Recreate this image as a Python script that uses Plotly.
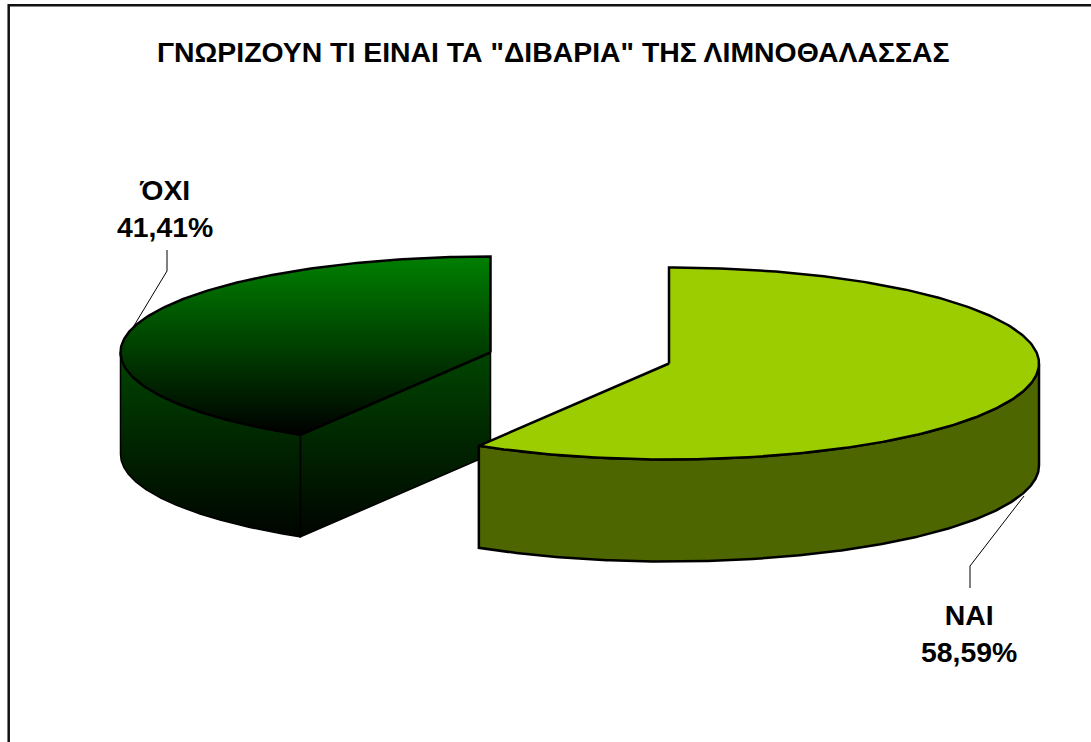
import numpy as np
import plotly.graph_objects as go

# --- data ---
categories = ["ΝΑΙ", "ΌΧΙ"]
shares = [58.59, 41.41]
title_text = 'ΓΝΩΡΙΖΟΥΝ ΤΙ ΕΙΝΑΙ ΤΑ "ΔΙΒΑΡΙΑ" ΤΗΣ ΛΙΜΝΟΘΑΛΑΣΣΑΣ'

# --- drawing geometry (pixel-like axis units) ---
W, H = 1091, 742
RX, RY, DEPTH = 370, 96, 102
CENTER_YES = (669, 363.5)
CENTER_NO = (490.5, 352.5)
LIME = "#9bcd00"
LIME_WALL = "#4d6600"
FONT = "Liberation Sans"


def ell(c, deg):
    a = np.radians(np.asarray(deg, dtype=float))
    return c[0] + RX * np.sin(a), c[1] - RY * np.cos(a)


def arc(c, a0, a1, n=240):
    return ell(c, np.linspace(a0, a1, n))


def closed(xs, ys):
    return list(xs) + [xs[0]], list(ys) + [ys[0]]


def poly(xs, ys, color=None, grad=None, width=2.5):
    xs, ys = closed(list(xs), list(ys))
    kw = dict(fillgradient=grad) if grad else dict(fillcolor=color)
    return go.Scatter(x=xs, y=ys, mode="lines", fill="toself",
                      line=dict(color="black", width=width),
                      hoverinfo="skip", showlegend=False, **kw)


split = shares[0] / sum(shares) * 360  # clockwise angle from 12 o'clock
fig = go.Figure()

# ΌΧΙ slice
wall_grad = dict(type="vertical", start=CENTER_NO[1] - 60, stop=CENTER_NO[1] + RY * 0.86 + DEPTH + 12,
                 colorscale=[[0, "rgb(0,90,0)"], [1, "rgb(0,0,0)"]])
top_grad = dict(type="vertical", start=CENTER_NO[1] - RY, stop=CENTER_NO[1] + RY * 0.86,
                colorscale=[[0, "rgb(0,128,0)"], [1, "rgb(0,0,0)"]])
ex, ey = ell(CENTER_NO, split)
fig.add_trace(poly([CENTER_NO[0], ex, ex, CENTER_NO[0]],
                   [CENTER_NO[1], ey, ey + DEPTH, CENTER_NO[1] + DEPTH], grad=wall_grad, width=1.5))
ax, ay = arc(CENTER_NO, split, 270)
fig.add_trace(poly(list(ax) + list(ax[::-1]), list(ay) + list(ay[::-1] + DEPTH), grad=wall_grad, width=1.5))
ax, ay = arc(CENTER_NO, split, 360)
fig.add_trace(poly([CENTER_NO[0]] + list(ax), [CENTER_NO[1]] + list(ay), grad=top_grad))

# ΝΑΙ slice
ax, ay = arc(CENTER_YES, 90, split)
fig.add_trace(poly(list(ax) + list(ax[::-1]), list(ay) + list(ay[::-1] + DEPTH), color=LIME_WALL))
ax, ay = arc(CENTER_YES, 0, split)
fig.add_trace(poly([CENTER_YES[0]] + list(ax), [CENTER_YES[1]] + list(ay), color=LIME))

# labels
def fmt(cat, v):
    return f"{cat}<br>{v:.2f}%".replace(".", ",")

font = dict(family=FONT, size=28.4, color="black", weight="bold")
annotations = [
    dict(x=968.5, y=633, text=fmt(categories[0], shares[0]), showarrow=False, font=font, align="center", xanchor="center", yanchor="middle"),
    dict(x=165, y=208, text=fmt(categories[1], shares[1]), showarrow=False, font=font, align="center", xanchor="center", yanchor="middle"),
    dict(x=553.5, y=52, text=title_text, showarrow=False, font=font, xanchor="center", yanchor="middle"),
]

shapes = [
    dict(type="rect", x0=8.7, y0=5.2, x1=1200, y1=800, line=dict(color="#111", width=2.5), layer="above"),
    dict(type="path", path="M 167 250 L 167 271 L 132 329", line=dict(color="black", width=1), layer="above"),
    dict(type="path", path="M 970 588 L 970 566 L 1024 496", line=dict(color="black", width=1), layer="above"),
]

fig.update_layout(
    width=W, height=H, margin=dict(l=0, r=0, t=0, b=0),
    paper_bgcolor="white", plot_bgcolor="white", showlegend=False,
    xaxis=dict(range=[0, W], visible=False, fixedrange=True),
    yaxis=dict(range=[H, 0], visible=False, fixedrange=True),
    annotations=annotations, shapes=shapes,
)
fig.write_html("out.html", config=dict(displayModeBar=False),
               post_script="document.body.style.margin='0';document.body.style.overflow='hidden';")
